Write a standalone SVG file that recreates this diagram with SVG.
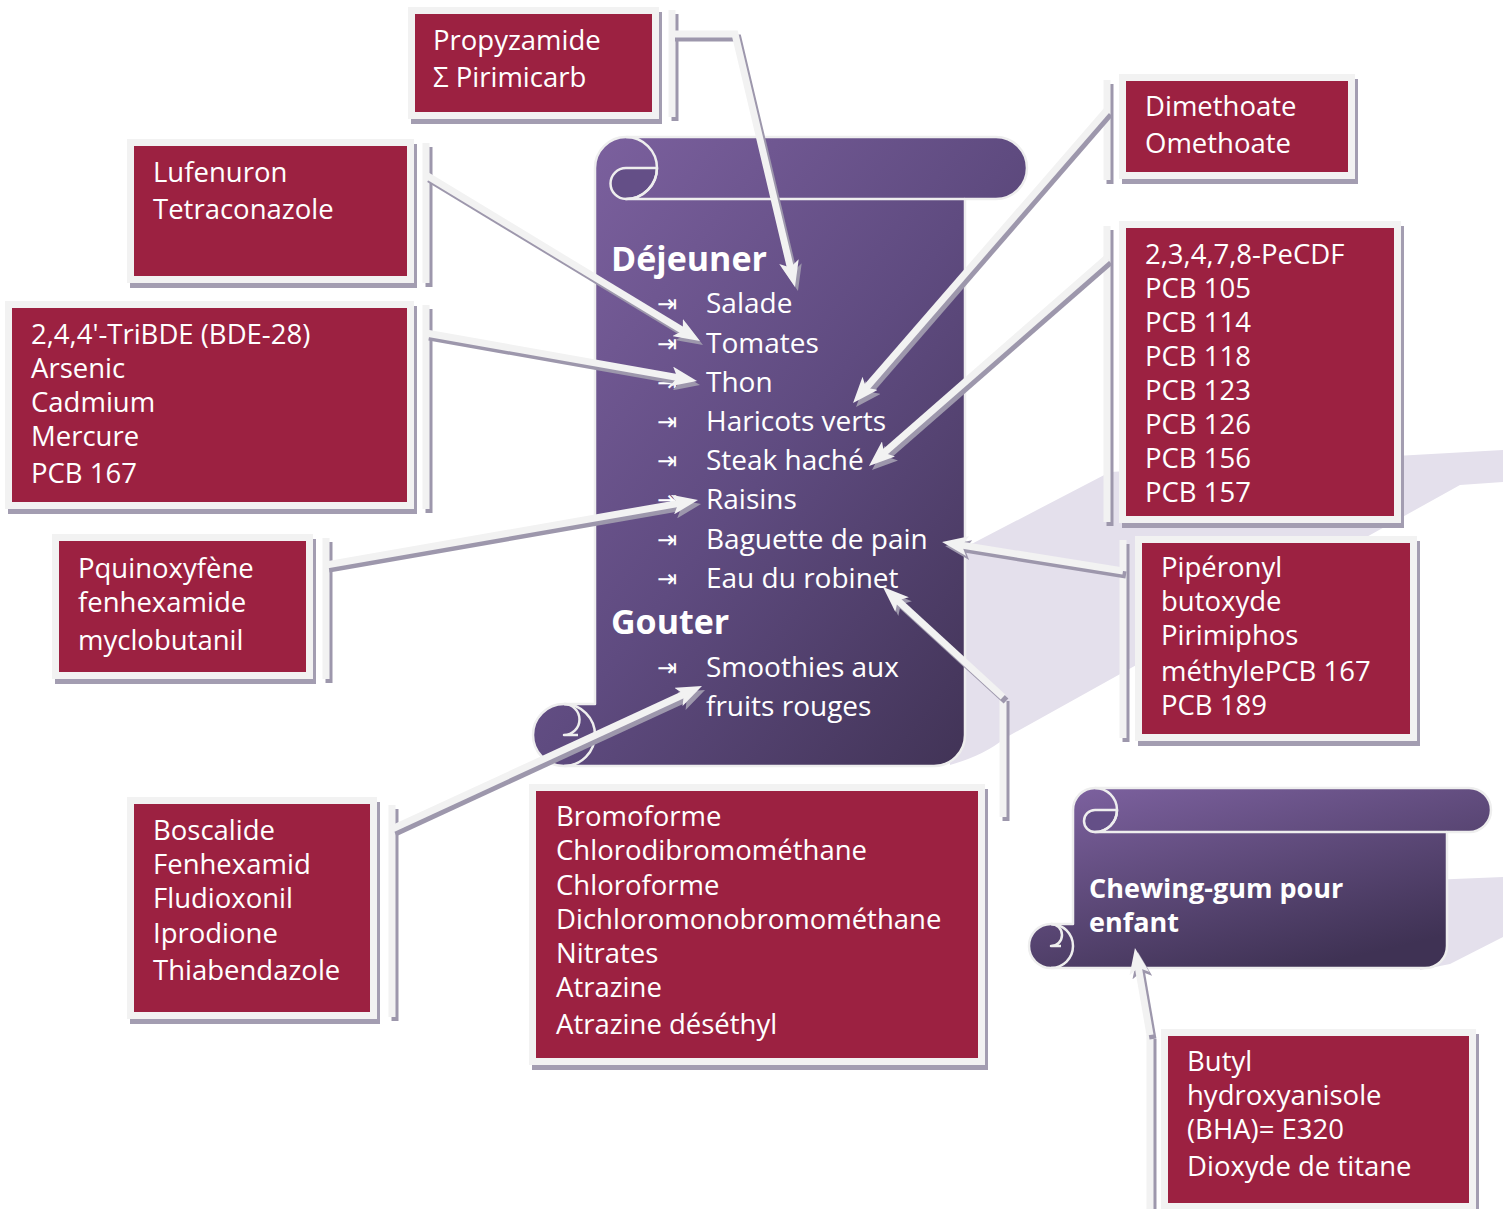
<svg xmlns="http://www.w3.org/2000/svg" width="1503" height="1209" viewBox="0 0 1503 1209">
<defs>
<linearGradient id="scrollGrad" x1="0" y1="0" x2="1" y2="1">
<stop offset="0" stop-color="#7f63a2"/>
<stop offset="0.5" stop-color="#5f4b80"/>
<stop offset="1" stop-color="#3d3050"/>
</linearGradient>
<linearGradient id="gumGrad" x1="0" y1="0" x2="0.6" y2="1">
<stop offset="0" stop-color="#7f63a2"/>
<stop offset="1" stop-color="#3f3254"/>
</linearGradient>
<marker id="arr" viewBox="0 0 26 20" markerWidth="26" markerHeight="20" refX="14" refY="10" orient="auto" markerUnits="userSpaceOnUse">
<path d="M0,0 L26,10 L0,20 L6,10 Z" fill="#f2f2f2"/>
</marker>
<marker id="arrS" viewBox="0 0 26 20" markerWidth="26" markerHeight="20" refX="14" refY="10" orient="auto" markerUnits="userSpaceOnUse">
<path d="M0,0 L26,10 L0,20 L6,10 Z" fill="#9d97ac"/>
</marker>
</defs>
<style>
.bg{fill:#e4e0ec}
.sh{fill:#a39db1}
.bd{fill:#f2f2f2}
.red{fill:#9c2141}
.t{font-family:"Open Sans","Liberation Sans",sans-serif;font-size:27.5px;fill:#ffffff}
.st{font-family:"Open Sans","Liberation Sans",sans-serif;font-size:28px;fill:#ffffff}
.hd{font-family:"Open Sans","Liberation Sans",sans-serif;font-size:34px;font-weight:bold;fill:#ffffff}
.gh{font-family:"Open Sans","Liberation Sans",sans-serif;font-size:27px;font-weight:bold;fill:#ffffff}
.bu{font-family:"DejaVu Sans",sans-serif;font-size:24px;fill:#ffffff}
.scr{stroke:#eeeeee;stroke-width:2.5;stroke-linejoin:round}
.ln{fill:none;stroke:#f2f2f2;stroke-width:7;stroke-linejoin:miter}
.lnS{fill:none;stroke:#9d97ac;stroke-width:7;stroke-linejoin:miter}
.bar{fill:none;stroke:#f2f2f2;stroke-width:7}
.barS{fill:none;stroke:#9d97ac;stroke-width:7}
</style>

<g id="backdrop">
<path class="bg" d="M940,560 L960,550 L1110,472 L1503,450 L1503,482 L1460,485 L1005,738 Q985,755 950,765 Z"/>
<path class="bg" d="M1430,880 L1503,877 L1503,937 L1450,964 L1420,970 Z"/>
</g>

<g id="scroll-main">
<path fill="url(#scrollGrad)" class="scr" d="M595,168 A31,31 0 0 1 626,137 L996,137 A31,31 0 0 1 996,199 L965,199 L965,735 A31,31 0 0 1 934,766 L564,766 A31,31 0 0 1 564,704 L595,704 Z"/>
<path fill="#644f87" class="scr" d="M626,168 A15.5,15.5 0 0 0 626,199 A31,31 0 0 0 657,168 Z"/>
<path fill="none" class="scr" d="M626,137 A31,31 0 0 1 626,199 L965,199"/>
<path fill="none" class="scr" d="M564,704 A15.5,15.5 0 0 1 564,735 L578,735"/>
<path fill="none" class="scr" d="M564,704 A31,31 0 0 1 564,766"/>
<text class="hd" x="611" y="271">Déjeuner</text>
<g class="bu">
<text x="657" y="312">⇥</text>
<text x="657" y="352">⇥</text>
<text x="657" y="391">⇥</text>
<text x="657" y="430">⇥</text>
<text x="657" y="469">⇥</text>
<text x="657" y="508">⇥</text>
<text x="657" y="548">⇥</text>
<text x="657" y="587">⇥</text>
<text x="657" y="676">⇥</text>
</g>
<text class="st" x="706" y="313">Salade</text>
<text class="st" x="706" y="353">Tomates</text>
<text class="st" x="706" y="392">Thon</text>
<text class="st" x="706" y="431">Haricots verts</text>
<text class="st" x="706" y="470">Steak haché</text>
<text class="st" x="706" y="509">Raisins</text>
<text class="st" x="706" y="549">Baguette de pain</text>
<text class="st" x="706" y="588">Eau du robinet</text>
<text class="hd" x="611" y="634">Gouter</text>
<text class="st" x="706" y="677">Smoothies aux</text>
<text class="st" x="706" y="716">fruits rouges</text>
</g>

<g id="scroll-gum">
<path fill="url(#gumGrad)" class="scr" d="M1073,810 A22,22 0 0 1 1095,788 L1469,788 A22,22 0 0 1 1469,832 L1447,832 L1447,946 A22,22 0 0 1 1425,968 L1051,968 A22,22 0 0 1 1051,924 L1073,924 Z"/>
<path fill="#644f87" class="scr" d="M1095,810 A11,11 0 0 0 1095,832 A22,22 0 0 0 1117,810 Z"/>
<path fill="none" class="scr" d="M1095,788 A22,22 0 0 1 1095,832 L1447,832"/>
<path fill="none" class="scr" d="M1051,924 A11,11 0 0 1 1051,946 L1061,946"/>
<path fill="none" class="scr" d="M1051,924 A22,22 0 0 1 1051,968"/>
<text class="gh" x="1089" y="898">Chewing-gum pour</text>
<text class="gh" x="1089" y="932">enfant</text>
</g>

<g id="box-propyzamide">
<rect class="sh" x="411" y="12" width="251" height="112"/>
<rect class="bd" x="408" y="7" width="251" height="112"/>
<rect class="red" x="415" y="14" width="237" height="98"/>
<line class="barS" x1="675" y1="14" x2="675" y2="121"/>
<line class="bar" x1="672" y1="10" x2="672" y2="117"/>
<text class="t" x="433" y="50">Propyzamide</text>
<text class="t" x="433" y="87">Σ Pirimicarb</text>
</g>

<g id="box-lufenuron">
<rect class="sh" x="130" y="144" width="287" height="144"/>
<rect class="bd" x="127" y="139" width="287" height="144"/>
<rect class="red" x="134" y="146" width="273" height="130"/>
<line class="barS" x1="429" y1="147" x2="429" y2="287"/>
<line class="bar" x1="426" y1="143" x2="426" y2="283"/>
<text class="t" x="153" y="182">Lufenuron</text>
<text class="t" x="153" y="219">Tetraconazole</text>
</g>

<g id="box-tribde">
<rect class="sh" x="8" y="306" width="409" height="208"/>
<rect class="bd" x="5" y="301" width="409" height="208"/>
<rect class="red" x="12" y="308" width="395" height="194"/>
<line class="barS" x1="429" y1="309" x2="429" y2="513"/>
<line class="bar" x1="426" y1="305" x2="426" y2="509"/>
<text class="t" x="31" y="344">2,4,4'-TriBDE (BDE-28)</text>
<text class="t" x="31" y="378">Arsenic</text>
<text class="t" x="31" y="412">Cadmium</text>
<text class="t" x="31" y="446">Mercure</text>
<text class="t" x="31" y="483">PCB 167</text>
</g>

<g id="box-pquinoxyfene">
<rect class="sh" x="55" y="539" width="261" height="145"/>
<rect class="bd" x="52" y="534" width="261" height="145"/>
<rect class="red" x="59" y="541" width="247" height="131"/>
<line class="barS" x1="329" y1="542" x2="329" y2="683"/>
<line class="bar" x1="326" y1="538" x2="326" y2="679"/>
<text class="t" x="78" y="578">Pquinoxyfène</text>
<text class="t" x="78" y="612">fenhexamide</text>
<text class="t" x="78" y="650">myclobutanil</text>
</g>

<g id="box-boscalide">
<rect class="sh" x="130" y="802" width="250" height="222"/>
<rect class="bd" x="127" y="797" width="250" height="222"/>
<rect class="red" x="134" y="804" width="236" height="208"/>
<line class="barS" x1="395" y1="809" x2="395" y2="1021"/>
<line class="bar" x1="392" y1="805" x2="392" y2="1017"/>
<text class="t" x="153" y="840">Boscalide</text>
<text class="t" x="153" y="874">Fenhexamid</text>
<text class="t" x="153" y="908">Fludioxonil</text>
<text class="t" x="153" y="943">Iprodione</text>
<text class="t" x="153" y="980">Thiabendazole</text>
</g>

<g id="box-bromoforme">
<rect class="sh" x="532" y="789" width="456" height="281"/>
<rect class="bd" x="529" y="784" width="456" height="281"/>
<rect class="red" x="536" y="791" width="442" height="267"/>
<line class="barS" x1="1006" y1="701" x2="1006" y2="821"/>
<line class="bar" x1="1003" y1="697" x2="1003" y2="817"/>
<text class="t" x="556" y="826">Bromoforme</text>
<text class="t" x="556" y="860">Chlorodibromométhane</text>
<text class="t" x="556" y="895">Chloroforme</text>
<text class="t" x="556" y="929">Dichloromonobromométhane</text>
<text class="t" x="556" y="963">Nitrates</text>
<text class="t" x="556" y="997">Atrazine</text>
<text class="t" x="556" y="1034">Atrazine déséthyl</text>
</g>

<g id="box-dimethoate">
<rect class="sh" x="1122" y="79" width="236" height="105"/>
<rect class="bd" x="1119" y="74" width="236" height="105"/>
<rect class="red" x="1126" y="81" width="222" height="91"/>
<line class="barS" x1="1110" y1="84" x2="1110" y2="184"/>
<line class="bar" x1="1107" y1="80" x2="1107" y2="180"/>
<text class="t" x="1145" y="116">Dimethoate</text>
<text class="t" x="1145" y="153">Omethoate</text>
</g>

<g id="box-pecdf">
<rect class="sh" x="1122" y="226" width="282" height="302"/>
<rect class="bd" x="1119" y="221" width="282" height="302"/>
<rect class="red" x="1126" y="228" width="268" height="288"/>
<line class="barS" x1="1110" y1="230" x2="1110" y2="526"/>
<line class="bar" x1="1107" y1="226" x2="1107" y2="522"/>
<text class="t" x="1145" y="264">2,3,4,7,8-PeCDF</text>
<text class="t" x="1145" y="298">PCB 105</text>
<text class="t" x="1145" y="332">PCB 114</text>
<text class="t" x="1145" y="366">PCB 118</text>
<text class="t" x="1145" y="400">PCB 123</text>
<text class="t" x="1145" y="434">PCB 126</text>
<text class="t" x="1145" y="468">PCB 156</text>
<text class="t" x="1145" y="502">PCB 157</text>
</g>

<g id="box-piperonyl">
<rect class="sh" x="1138" y="541" width="282" height="205"/>
<rect class="bd" x="1135" y="536" width="282" height="205"/>
<rect class="red" x="1142" y="543" width="268" height="191"/>
<line class="barS" x1="1126" y1="544" x2="1126" y2="742"/>
<line class="bar" x1="1123" y1="540" x2="1123" y2="738"/>
<text class="t" x="1161" y="577">Pipéronyl</text>
<text class="t" x="1161" y="611">butoxyde</text>
<text class="t" x="1161" y="645">Pirimiphos</text>
<text class="t" x="1161" y="681">méthylePCB 167</text>
<text class="t" x="1161" y="715">PCB 189</text>
</g>

<g id="box-butyl">
<rect class="sh" x="1164" y="1034" width="315" height="181"/>
<rect class="bd" x="1161" y="1029" width="315" height="181"/>
<rect class="red" x="1168" y="1036" width="301" height="167"/>
<line class="barS" x1="1153" y1="1039" x2="1153" y2="1212"/>
<line class="bar" x1="1150" y1="1035" x2="1150" y2="1209"/>
<text class="t" x="1187" y="1071">Butyl</text>
<text class="t" x="1187" y="1105">hydroxyanisole</text>
<text class="t" x="1187" y="1139">(BHA)= E320</text>
<text class="t" x="1187" y="1176">Dioxyde de titane</text>
</g>

<g id="connectors">
<g transform="translate(3,4)">
<path class="lnS" marker-end="url(#arrS)" d="M672,34 L735,34 L792.2,275.3"/>
<path class="lnS" marker-end="url(#arrS)" d="M426,175 L689.7,334.8"/>
<path class="lnS" marker-end="url(#arrS)" d="M426,333 L685.2,378.9"/>
<path class="lnS" marker-end="url(#arrS)" d="M326,565 L686.2,502.1"/>
<path class="lnS" marker-end="url(#arrS)" d="M392,829 L691.1,691.0"/>
<path class="lnS" marker-end="url(#arrS)" d="M1003,697 L891.8,595.1"/>
<path class="lnS" marker-end="url(#arrS)" d="M1107,110 L860.9,393.9"/>
<path class="lnS" marker-end="url(#arrS)" d="M1107,258 L878.0,458.1"/>
<path class="lnS" marker-end="url(#arrS)" d="M1123,571 L953.9,543.9"/>
<path class="lnS" marker-end="url(#arrS)" d="M1150,1035 L1137.0,959.8"/>
</g>
<path class="ln" marker-end="url(#arr)" d="M672,34 L735,34 L792.2,275.3"/>
<path class="ln" marker-end="url(#arr)" d="M426,175 L689.7,334.8"/>
<path class="ln" marker-end="url(#arr)" d="M426,333 L685.2,378.9"/>
<path class="ln" marker-end="url(#arr)" d="M326,565 L686.2,502.1"/>
<path class="ln" marker-end="url(#arr)" d="M392,829 L691.1,691.0"/>
<path class="ln" marker-end="url(#arr)" d="M1003,697 L891.8,595.1"/>
<path class="ln" marker-end="url(#arr)" d="M1107,110 L860.9,393.9"/>
<path class="ln" marker-end="url(#arr)" d="M1107,258 L878.0,458.1"/>
<path class="ln" marker-end="url(#arr)" d="M1123,571 L953.9,543.9"/>
<path class="ln" marker-end="url(#arr)" d="M1150,1035 L1137.0,959.8"/>
</g>
</svg>
